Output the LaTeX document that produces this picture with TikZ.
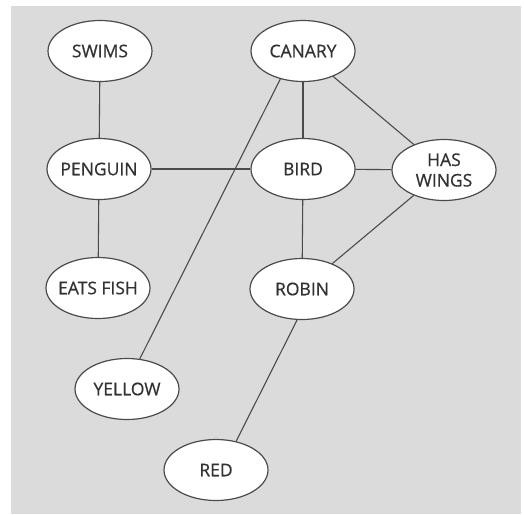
\documentclass[tikz,border=0pt]{standalone}
\usepackage{fontspec}
\setmainfont{Open Sans}[FakeBold=0.6]
\usetikzlibrary{shapes.geometric}
\definecolor{panel}{RGB}{219, 219, 219}
\definecolor{ink}{RGB}{75, 75, 75}
\definecolor{textgray}{RGB}{50, 50, 50}

\begin{document}
\begin{tikzpicture}[x=1pt, y=-1pt,
    concept/.style={ellipse, draw=ink, line width=1.2pt, fill=white,
        minimum width=104pt, minimum height=61pt, inner xsep=-16pt, inner ysep=-2pt,
        align=center, text=textgray, font=\fontsize{17.5}{20.5}\selectfont},
    link/.style={draw=ink, line width=1.1pt}]
    \useasboundingbox (0,0) rectangle (524,514);
    \fill[panel] (11,6) rectangle (521,514);

    % Concepts
    \node[concept] (swims)   at (100, 51)  {SWIMS};
    \node[concept] (canary)  at (303, 51)  {CANARY};
    \node[concept] (penguin) at (99, 169)  {PENGUIN};
    \node[concept] (bird)    at (303, 169) {BIRD};
    \node[concept] (wings)   at (444, 170) {HAS\\WINGS};
    \node[concept] (fish)    at (98, 288)  {EATS FISH};
    \node[concept] (robin)   at (302, 289) {ROBIN};
    \node[concept] (yellow)  at (127, 389) {YELLOW};
    \node[concept] (red)     at (216, 470) {RED};

    % Links
    \foreach \a/\b in {swims/penguin, penguin/fish, penguin/bird, canary/bird,
                       bird/wings, bird/robin, canary/wings, wings/robin} {
        \draw[link] (\a) -- (\b);
    }
    \draw[link] (canary.231) -- (yellow.67);
    \draw[link] (robin.261) -- (red.55);
\end{tikzpicture}
\end{document}
